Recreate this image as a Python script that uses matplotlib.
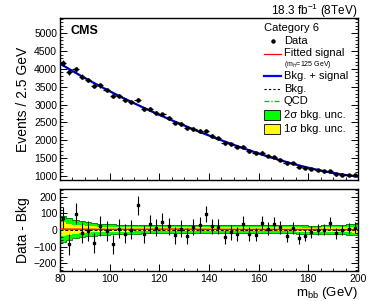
import numpy as np
import matplotlib
matplotlib.use("Agg")
import matplotlib.pyplot as plt
from matplotlib.ticker import MultipleLocator
from matplotlib.lines import Line2D
from matplotlib.patches import Rectangle

plt.rcParams["font.family"] = ["Liberation Sans", "DejaVu Sans"]
plt.rcParams["mathtext.fontset"] = "custom"
plt.rcParams["mathtext.rm"] = "Liberation Sans"
plt.rcParams["mathtext.it"] = "Liberation Sans:italic"

""" Data read off the picture """

# bin centres of the 2.5 GeV bins, 80 - 200 GeV
bin_lo = 80.0
bin_width = 2.5

# fitted background at each bin centre
bkg = [4095, 3985, 3885, 3795, 3700, 3605, 3510, 3415, 3330, 3245,
       3160, 3075, 2990, 2910, 2830, 2750, 2675, 2600, 2525, 2450,
       2375, 2300, 2230, 2165, 2100, 2030, 1965, 1905, 1845, 1785,
       1725, 1665, 1605, 1550, 1495, 1445, 1395, 1345, 1300, 1255,
       1210, 1170, 1130, 1095, 1065, 1040, 1020, 1005]

# data minus background, per bin
residual = [75, -84, 97, -15, -5, -78, 25, -5, -84, 7,
            -21, 3, 149, -25, 37, 15, 50, 24, -31, 9,
            -37, 21, 31, 95, 23, 21, -42, -13, -25, 39,
            -25, -27, 45, 9, 39, 17, -37, 13, -47, -33,
            -13, 3, 3, 45, -19, 0, 9, 15]

# half widths of the background uncertainty bands, per bin
band_2sigma = [80, 65, 55, 48, 42, 38, 35, 32, 30, 28,
               27, 26, 26, 25, 25, 25, 24, 24, 24, 24,
               24, 24, 24, 24, 24, 24, 24, 24, 24, 24,
               24, 24, 24, 24, 24, 24, 24, 24, 24, 24,
               24, 24, 25, 25, 26, 28, 31, 35]
band_1sigma = [40, 33, 28, 24, 21, 19, 17, 16, 15, 14,
               14, 13, 13, 13, 12, 12, 12, 12, 12, 12,
               12, 12, 12, 12, 12, 12, 12, 12, 12, 12,
               12, 12, 12, 12, 12, 12, 12, 12, 12, 12,
               12, 12, 13, 13, 13, 14, 16, 18]

# fitted signal as seen in the residual panel
signal_x = [80, 100, 120, 125, 130, 150, 200]
signal_y = [6, 4, 5, 6, 5, 4, 3]

x_ticks = [80, 100, 120, 140, 160, 180, 200]


""" Helper Functions """

# ROOT-like inward ticks on all sides but the top.
def Style_Axis(ax, x_minor: float, y_major: float, y_minor: float) -> None:
    ax.xaxis.set_major_locator(MultipleLocator(20))
    ax.xaxis.set_minor_locator(MultipleLocator(x_minor))
    ax.yaxis.set_major_locator(MultipleLocator(y_major))
    ax.yaxis.set_minor_locator(MultipleLocator(y_minor))
    ax.tick_params(which="both", direction="in", top=False, right=True, labelsize=7.5, pad=2)
    ax.tick_params(which="major", length=5, width=0.7)
    ax.tick_params(which="minor", length=2.5, width=0.6)
    for spine in ax.spines.values():
        spine.set_linewidth(1.0)

# convert picture pixels to figure fraction.
def px(x, y):
    return (x / 374, 1 - y / 301)


""" Plot """

bkg = np.array(bkg, dtype=float)
residual = np.array(residual, dtype=float)
n_bins = len(bkg)
centres = bin_lo + bin_width * (np.arange(n_bins) + 0.5)
edges = bin_lo + bin_width * np.arange(n_bins + 1)
data = bkg + residual
errors = np.sqrt(data)

# smooth curve through the background values
coeffs = np.polyfit(centres, bkg, 4)
x_fine = np.linspace(80, 200, 400)
bkg_fine = np.polyval(coeffs, x_fine)

figure = plt.figure(figsize=(3.74, 3.01), dpi=100)
ax_top = figure.add_axes([0.1604, 0.402, 0.7968, 0.538])
ax_bot = figure.add_axes([0.1604, 0.0997, 0.7968, 0.2724])

# top panel: data and fit
ax_top.plot(x_fine, bkg_fine - 12, color="#22aa22", lw=0.9, ls=(0, (4, 1.5, 1, 1.5)), zorder=2)
ax_top.plot(x_fine, bkg_fine, color="blue", lw=1.6, zorder=3)
ax_top.plot(x_fine, bkg_fine, color="black", lw=0.7, ls=(0, (2, 2)), zorder=4)
ax_top.errorbar(centres, data, xerr=bin_width / 2, yerr=errors, fmt="o", color="black",
                ms=2.2, elinewidth=0.9, capsize=0, zorder=5)
ax_top.set_xlim(80, 200)
ax_top.set_ylim(890, 5420)
Style_Axis(ax_top, 5, 500, 100)
ax_top.tick_params(labelbottom=False)
ax_top.set_ylabel("Events / 2.5 GeV", fontsize=10, labelpad=3)

ax_top.text(0.035, 0.955, "CMS", transform=ax_top.transAxes, fontsize=9, fontweight="bold",
            ha="left", va="top")
figure.text(0.955, 0.965, "18.3 fb$^{-1}$ (8TeV)", fontsize=8.5, ha="right", va="center")

# legend drawn by hand
figure.text(*px(264, 28), "Category 6", fontsize=8, ha="left", va="center")
legend_rows = [("Data", 41), ("Fitted signal", 53.5), ("Bkg. + signal", 76), ("Bkg.", 88.5),
               ("QCD", 101), ("2\u03c3 bkg. unc.", 115), ("1\u03c3 bkg. unc.", 128.5)]
for label, y in legend_rows:
    figure.text(*px(284, y), label, fontsize=8, ha="left", va="center")
figure.text(*px(284, 65), "(m$_{H}$=125 GeV)", fontsize=5, ha="left", va="center")

x0, y0 = px(264, 41)
x1, _ = px(281, 41)
figure.add_artist(Line2D([(x0 + x1) / 2], [y0], marker="o", ms=2.2, color="black"))
for y, col, lw, ls in [(54, "red", 0.9, "-"), (76, "blue", 1.6, "-"),
                       (88.5, "black", 0.8, (0, (2, 2))), (101, "#22aa22", 0.9, (0, (4, 1.5, 1, 1.5)))]:
    a, b = px(264, y)
    c, _ = px(281, y)
    figure.add_artist(Line2D([a, c], [b, b], color=col, lw=lw, ls=ls))
for y, col in [(115, "#00ff00"), (128.5, "#ffff00")]:
    a, b = px(264, y + 5)
    figure.add_artist(Rectangle((a, b), 16 / 374, 10 / 301, facecolor=col,
                                edgecolor="black", lw=0.6, transform=figure.transFigure))

# bottom panel: residuals with uncertainty bands
band_centre = np.interp(centres, signal_x, signal_y)
band_2sigma = np.array(band_2sigma, dtype=float)
band_1sigma = np.array(band_1sigma, dtype=float)
step_x = edges
up2 = np.append(band_centre + band_2sigma, band_centre[-1] + band_2sigma[-1])
dn2 = np.append(band_centre - band_2sigma, band_centre[-1] - band_2sigma[-1])
up1 = np.append(band_centre + band_1sigma, band_centre[-1] + band_1sigma[-1])
dn1 = np.append(band_centre - band_1sigma, band_centre[-1] - band_1sigma[-1])
ax_bot.fill_between(step_x, dn2, up2, step="post", color="#00ff00", lw=0, zorder=1)
ax_bot.step(step_x, up2, where="post", color="#007700", lw=0.6, zorder=1)
ax_bot.step(step_x, dn2, where="post", color="#007700", lw=0.6, zorder=1)
ax_bot.fill_between(step_x, dn1, up1, step="post", color="#ffff00", lw=0, zorder=2)
ax_bot.axhline(0, color="black", lw=0.7, ls=(0, (3, 2)), zorder=3)
ax_bot.plot(signal_x, signal_y, color="red", lw=1.0, zorder=3)
ax_bot.errorbar(centres, residual, yerr=errors, fmt="s", color="black", ms=2.0,
                elinewidth=0.8, capsize=0, zorder=5)
ax_bot.set_xlim(80, 200)
ax_bot.set_ylim(-245, 246)
Style_Axis(ax_bot, 5, 100, 20)
ax_bot.set_xticks(x_ticks)
ax_bot.set_ylabel("Data - Bkg", fontsize=10, labelpad=3)
ax_bot.set_xlabel("m$_{\\rm bb}$ (GeV)", fontsize=9.5, loc="right", labelpad=1)

figure.savefig("out.png", dpi=100)
plt.close(figure)
